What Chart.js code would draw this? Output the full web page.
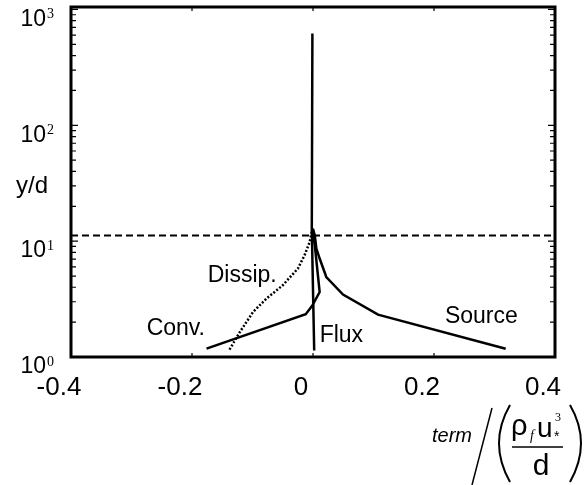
<!DOCTYPE html>
<html>
<head>
<meta charset="utf-8">
<script src="https://cdn.jsdelivr.net/npm/chart.js@4/dist/chart.umd.min.js"></script>
<style>
  html, body { margin: 0; padding: 0; background: #fff; }
  canvas { display: block; }
</style>
</head>
<body>
<canvas id="budgetChart" width="587" height="485"></canvas>
<script>
// budget terms vs. height, normalised
const convX = [-0.176, -0.012, -0.001, 0.011, 0.003, -0.001];
const convY = [1.18, 2.34, 2.79, 3.64, 9.2, 12.8];

const dissipX = [-0.138, -0.121, -0.099, -0.077, -0.050, -0.025, -0.014, -0.0055, -0.001];
const dissipY = [1.16, 1.64, 2.45, 3.19, 4.16, 5.8, 7.55, 9.85, 12.8];

const fluxX = [0.002, -0.002, -0.001];
const fluxY = [1.14, 12.8, 620];

const sourceX = [0.3185, 0.1075, 0.0496, 0.022, 0.011, 0.0056, 0.003, 0.0];
const sourceY = [1.18, 2.32, 3.46, 4.9, 7.08, 8.6, 11.2, 12.8];

const layerTop = 11.2;

const xTicks = [-0.4, -0.2, 0, 0.2, 0.4];
const xTickLabels = ['-0.4', '-0.2', '0', '0.2', '0.4'];
const yDecades = [1, 10, 100, 1000];
const yExponents = ['0', '1', '2', '3'];

const curveNames = ['Conv.', 'Dissip.', 'Flux', 'Source'];
// where each curve name sits (data coords, left/baseline)
const nameX = [-0.275, -0.174, 0.011, 0.218];
const nameY = [1.54, 4.44, 1.35, 1.98];

const pts = (xs, ys) => xs.map((v, i) => ({ x: v, y: ys[i] }));

const SANS = '"Liberation Sans", Arial, sans-serif';
const SERIF = '"Liberation Serif", serif';

const frame = {
  id: 'frame',
  afterDatasetsDraw(chart) {
    const { ctx, chartArea: a, scales: { x, y } } = chart;
    ctx.save();
    ctx.strokeStyle = '#000';
    ctx.fillStyle = '#000';

    // inward tick marks
    ctx.lineWidth = 1.2;
    ctx.beginPath();
    yDecades.forEach((d, i) => {
      const py = y.getPixelForValue(d);
      ctx.moveTo(a.left, py); ctx.lineTo(a.left + 7, py);
      ctx.moveTo(a.right, py); ctx.lineTo(a.right - 7, py);
      if (i < yDecades.length - 1) {
        for (let k = 2; k <= 9; k++) {
          const my = y.getPixelForValue(k * d);
          ctx.moveTo(a.left, my); ctx.lineTo(a.left + 5, my);
          ctx.moveTo(a.right, my); ctx.lineTo(a.right - 5, my);
        }
      }
    });
    xTicks.forEach(v => {
      const px = x.getPixelForValue(v);
      ctx.moveTo(px, a.bottom); ctx.lineTo(px, a.bottom - 4);
      ctx.moveTo(px, a.top); ctx.lineTo(px, a.top + 4);
    });
    ctx.stroke();

    // frame
    ctx.lineWidth = 3;
    ctx.strokeRect(a.left, a.top, a.right - a.left, a.bottom - a.top);

    // x tick labels
    ctx.font = '26px ' + SANS;
    ctx.textAlign = 'center';
    ctx.textBaseline = 'alphabetic';
    xTicks.forEach((v, i) => {
      ctx.fillText(xTickLabels[i], x.getPixelForValue(v) - 12, a.bottom + 38);
    });

    // y tick labels 10^n
    ctx.textBaseline = 'middle';
    yDecades.forEach((d, i) => {
      const py = y.getPixelForValue(d) + 10;
      ctx.font = '23px ' + SANS;
      ctx.textAlign = 'right';
      ctx.fillText('10', 46, py);
      ctx.font = '14px ' + SERIF;
      ctx.textAlign = 'left';
      ctx.fillText(yExponents[i], 47, py - 5);
    });

    // y title
    ctx.font = '24px ' + SANS;
    ctx.textAlign = 'center';
    ctx.textBaseline = 'alphabetic';
    ctx.fillText('y/d', 32, 193);

    // curve names
    ctx.font = '23px ' + SANS;
    ctx.textAlign = 'left';
    curveNames.forEach((n, i) => {
      ctx.fillText(n, x.getPixelForValue(nameX[i]), y.getPixelForValue(nameY[i]));
    });

    // x title: term / (rho_f u*^3 / d)
    ctx.font = 'italic 20px ' + SANS;
    ctx.fillText('term', 432, 442);
    ctx.lineWidth = 1.5;
    ctx.beginPath();
    ctx.moveTo(472, 485); ctx.lineTo(492, 408);
    ctx.stroke();
    ctx.lineWidth = 2;
    ctx.beginPath();
    ctx.moveTo(510, 405); ctx.quadraticCurveTo(488, 443, 510, 482);
    ctx.moveTo(570, 405); ctx.quadraticCurveTo(592, 443, 570, 482);
    ctx.stroke();
    ctx.font = '29px ' + SANS;
    ctx.fillText('\u03C1', 511, 435);
    ctx.font = 'italic 14px ' + SERIF;
    ctx.fillText('f', 530, 440);
    ctx.font = '28px ' + SANS;
    ctx.fillText('u', 537, 437);
    ctx.font = '12px ' + SERIF;
    ctx.fillText('3', 555, 421);
    ctx.font = '14px ' + SANS;
    ctx.fillText('*', 554, 441);
    ctx.lineWidth = 1.5;
    ctx.beginPath();
    ctx.moveTo(512, 447); ctx.lineTo(563, 447);
    ctx.stroke();
    ctx.font = '30px ' + SANS;
    ctx.textAlign = 'center';
    ctx.fillText('d', 541, 475);

    ctx.restore();
  }
};

const line = (data, extra) => Object.assign({
  data,
  showLine: true,
  borderColor: '#000',
  borderWidth: 2.5,
  pointRadius: 0,
  fill: false,
  tension: 0
}, extra);

new Chart(document.getElementById('budgetChart'), {
  type: 'scatter',
  data: {
    datasets: [
      line(pts(convX, convY)),
      line(pts(dissipX, dissipY), { borderDash: [2, 1.8] }),
      line(pts(fluxX, fluxY)),
      line(pts(sourceX, sourceY)),
      line(pts([-0.4, 0.4], [layerTop, layerTop]), { borderDash: [7, 4], borderWidth: 2 })
    ]
  },
  options: {
    responsive: false,
    animation: false,
    layout: { padding: { left: 71, right: 32, top: 7, bottom: 128 } },
    plugins: { legend: { display: false }, tooltip: { enabled: false } },
    scales: {
      x: { type: 'linear', min: -0.4, max: 0.4, display: false },
      y: { type: 'logarithmic', min: 1, max: 1050, display: false }
    }
  },
  plugins: [frame]
});
</script>
</body>
</html>
